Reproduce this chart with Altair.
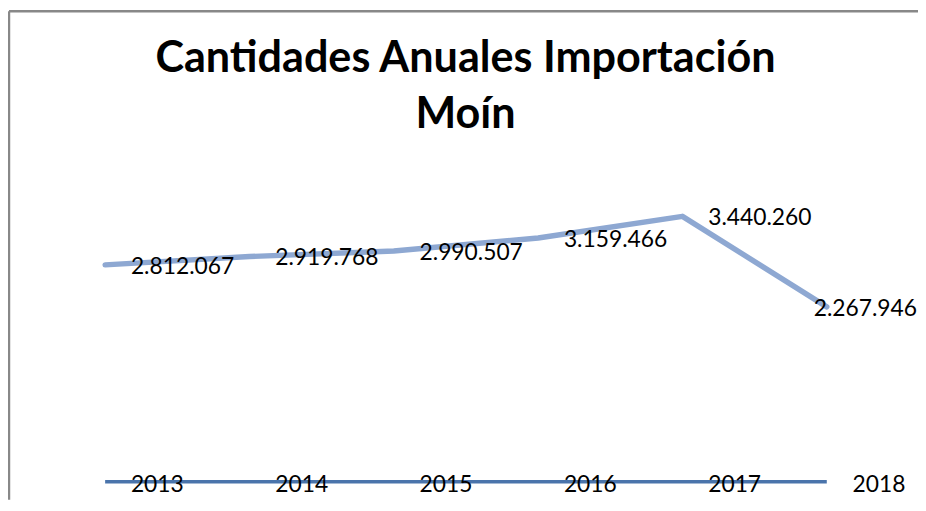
import altair as alt
import pandas as pd

YEARS = [2013, 2014, 2015, 2016, 2017, 2018]
CANTIDADES = [2812067, 2919768, 2990507, 3159466, 3440260, 2267946]
TITLE = ["Cantidades Anuales Importación", "Moín"]


def fmt(v):
    return f"{v:,}".replace(",", ".")


main = pd.DataFrame({"year": YEARS, "value": CANTIDADES,
                     "label": [fmt(v) for v in CANTIDADES]})
yrs = pd.DataFrame({"year": YEARS, "value": YEARS,
                    "label": [str(y) for y in YEARS]})
one = pd.DataFrame({"k": [0]})

W, H = 918, 494
xs = alt.Scale(domain=[2012.327, 2018.632], nice=False, zero=False)
# value 0 sits 476 px below the top of the plot, 77.9 px per million
ys = alt.Scale(domain=[-(H - 476) / 77.9e-6, 476 / 77.9e-6], nice=False, zero=False)
X = alt.X("year:Q", scale=xs, axis=None)
Y = alt.Y("value:Q", scale=ys, axis=None)

frame_top = alt.Chart(one).mark_rule(color="#888888", strokeWidth=2.5).encode(
    x=alt.value(1), x2=alt.value(W), y=alt.value(1))
frame_left = alt.Chart(one).mark_rule(color="#888888", strokeWidth=2.5).encode(
    x=alt.value(1), y=alt.value(1), y2=alt.value(H))

year_line = alt.Chart(yrs).mark_line(color="#4A74AB", strokeWidth=3.5).encode(x=X, y=Y)
main_line = alt.Chart(main).mark_line(color="#8EA8D2", strokeWidth=5.5,
                                      strokeCap="round", strokeJoin="round").encode(x=X, y=Y)

txt = dict(font="Lato", fontSize=23, color="black", baseline="middle")
main_lab = alt.Chart(main).transform_filter("datum.year < 2018").mark_text(
    align="left", dx=26, dy=2, **txt).encode(x=X, y=Y, text="label:N")
main_lab_last = alt.Chart(main).transform_filter("datum.year == 2018").mark_text(
    align="right", dx=91, dy=2, **txt).encode(x=X, y=Y, text="label:N")
year_lab = alt.Chart(yrs).mark_text(align="left", dx=26, dy=3, **txt).encode(
    x=X, y=Y, text="label:N")

title = alt.Chart(one).mark_text(text=TITLE, font="Lato", fontSize=43.5, fontWeight="bold",
                                 align="center", baseline="alphabetic", lineHeight=57,
                                 color="black").encode(x=alt.value(461.5), y=alt.value(62))

chart = alt.layer(frame_top, frame_left, year_line, main_line, main_lab, main_lab_last,
                  year_lab, title).properties(
    width=W, height=H, padding=0, autosize="none"
).configure_view(stroke=None)

chart.save("out.html", embed_options={"renderer": "svg", "actions": False})
